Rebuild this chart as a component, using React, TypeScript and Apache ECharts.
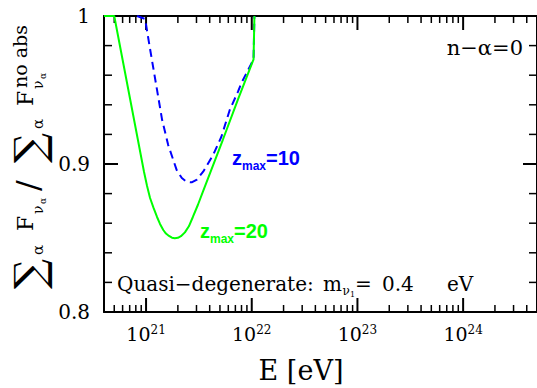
import React, { useEffect, useRef } from 'react';
import * as echarts from 'echarts';

// ---- data ----
const E_zmax20 = [4.0e20, 5.0e20, 9.57e20, 1.022e21, 1.091e21, 1.177e21, 1.27e21, 1.355e21, 1.455e21, 1.543e21, 1.648e21, 1.758e21, 1.87e21, 2.002e21, 2.138e21, 2.331e21, 2.542e21, 2.773e21, 3.091e21, 3.445e21, 5.318e21, 7.365e21, 1.04e22, 1.06e22];
const F_zmax20 = [1.0, 1.0, 0.8946, 0.8851, 0.877, 0.8703, 0.8642, 0.8595, 0.8554, 0.853, 0.8514, 0.8502, 0.8498, 0.8501, 0.8512, 0.8538, 0.8579, 0.8642, 0.8723, 0.8811, 0.9162, 0.9432, 0.9707, 1.0];
const E_zmax10 = [8.22e20, 9.79e20, 1.09e21, 1.42e21, 1.62e21, 1.95e21, 2.18e21, 2.42e21, 2.7e21, 3.03e21, 3.47e21, 4.31e21, 5.16e21, 6.19e21, 7.41e21, 7.98e21, 1.04e22, 1.06e22];
const F_zmax10 = [1.0, 0.998, 0.9779, 0.9297, 0.9128, 0.8959, 0.8905, 0.888, 0.8876, 0.8895, 0.8948, 0.9061, 0.9184, 0.9365, 0.9489, 0.9547, 0.9707, 1.0];

const E_MIN = 4e20;
const E_MAX = 5e24;
const F_MIN = 0.8;
const F_MAX = 1.0;
const F_INTERVAL = 0.1;
const xMajorExponents = [21, 22, 23, 24];
const xDecades = [20, 21, 22, 23, 24];
const xMinorMultipliers = [2, 3, 4, 5, 6, 7, 8, 9];
const yMajorTicks = [0.8, 0.9, 1.0];
const yMinorTicks = [0.82, 0.84, 0.86, 0.88, 0.92, 0.94, 0.96, 0.98];

const SERIF = '"DejaVu Serif", "Liberation Serif", serif';
const SANS = '"Liberation Sans", Arial, sans-serif';
const GREEN = '#00ff00';
const BLUE = '#0000ff';

// layout
const W = 537;
const H = 388;
const GRID = { left: 104, right: -1, top: 16, bottom: 76 };
const MAJOR_LEN = 14;
const MINOR_LEN_X = 7;
const MINOR_LEN_Y = 8;

export default function App() {
  const ref = useRef<HTMLDivElement>(null);

  useEffect(() => {
    if (!ref.current) return;
    const chart = echarts.init(ref.current, null, { renderer: 'svg' });
    const xMin = Math.log10(E_MIN);
    const xMax = Math.log10(E_MAX);

    const xMinorValues: number[] = [];
    xDecades.forEach((n) =>
      xMinorMultipliers.forEach((k) => {
        const v = n + Math.log10(k);
        if (v > xMin + 1e-9 && v < xMax - 1e-9) xMinorValues.push(v);
      })
    );

    // ticks drawn as thin rectangle symbols placed through the axes
    const tickScatter = (name: string, data: number[][], size: number[], offset: number[]) => ({
      name,
      type: 'scatter',
      xAxisIndex: 0,
      yAxisIndex: 0,
      data,
      symbol: 'rect',
      symbolSize: size,
      symbolOffset: offset,
      clip: false,
      silent: true,
      itemStyle: { color: '#000', opacity: 1 },
      z: 20,
    });
    const tickSeries = [
      tickScatter('x major bottom', xMajorExponents.map((v) => [v, F_MIN]), [2, MAJOR_LEN], [0, -MAJOR_LEN / 2]),
      tickScatter('x major top', xMajorExponents.map((v) => [v, F_MAX]), [2, MAJOR_LEN], [0, MAJOR_LEN / 2]),
      tickScatter('x minor bottom', xMinorValues.map((v) => [v, F_MIN]), [1.5, MINOR_LEN_X], [0, -MINOR_LEN_X / 2]),
      tickScatter('x minor top', xMinorValues.map((v) => [v, F_MAX]), [1.5, MINOR_LEN_X], [0, MINOR_LEN_X / 2]),
      tickScatter('y major left', yMajorTicks.map((v) => [xMin, v]), [MAJOR_LEN, 2], [MAJOR_LEN / 2, 0]),
      tickScatter('y major right', yMajorTicks.map((v) => [xMax, v]), [MAJOR_LEN, 2], [-MAJOR_LEN / 2, 0]),
      tickScatter('y minor left', yMinorTicks.map((v) => [xMin, v]), [MINOR_LEN_Y, 1.5], [MINOR_LEN_Y / 2, 0]),
      tickScatter('y minor right', yMinorTicks.map((v) => [xMax, v]), [MINOR_LEN_Y, 1.5], [-MINOR_LEN_Y / 2, 0]),
    ];

    const frameLine = { show: true, onZero: false, lineStyle: { color: '#000', width: 2 } };
    const baseX = { type: 'value', min: xMin, max: xMax, splitLine: { show: false } };
    const baseY = {
      type: 'value',
      min: F_MIN,
      max: F_MAX,
      interval: F_INTERVAL,
      splitLine: { show: false },
      axisLine: frameLine,
      axisTick: { show: false },
    };

    const txt = (text: string, x: number, y: number, size: number, opts: any = {}) => ({
      type: 'text',
      x,
      y,
      silent: true,
      style: {
        text,
        fill: opts.fill || '#000',
        fontSize: size,
        fontFamily: opts.family || SERIF,
        fontWeight: opts.weight || 'normal',
        align: opts.align || 'left',
        textAlign: opts.align || 'left',
        verticalAlign: opts.va || 'middle',
        textVerticalAlign: opts.va || 'middle',
      },
    });

    const zLabel = (value: string, x: number, y: number, color: string) => ({
      type: 'text',
      x,
      y,
      silent: true,
      style: {
        text: `{a|z}{s|max}{a|=${value}}`,
        fill: color,
        verticalAlign: 'top',
        textVerticalAlign: 'top',
        align: 'left',
        textAlign: 'left',
        rich: {
          a: { fontFamily: SANS, fontWeight: 'bold', fontSize: 20, fill: color, color, verticalAlign: 'top' },
          s: { fontFamily: SANS, fontWeight: 'bold', fontSize: 12, fill: color, color, verticalAlign: 'top', padding: [12, 0, 0, 0] },
        },
      },
    });

    const titlePieces = [
      txt('∑', -289, 29, 42),
      txt('α', -255, 38, 15),
      txt('F', -231, 25, 22),
      txt('ν', -214, 38, 14),
      txt('α', -204, 43, 9),
      txt('/', -191, 28, 32),
      txt('∑', -163, 29, 42),
      txt('α', -129, 38, 15),
      txt('F', -106, 25, 22),
      txt('ν', -89, 38, 14),
      txt('α', -79, 43, 9),
      txt('no abs', -88, 20, 19),
    ];

    chart.setOption({
      animation: false,
      grid: { ...GRID, containLabel: false },
      xAxis: [
        {
          ...baseX,
          position: 'bottom',
          axisLine: frameLine,
          axisTick: { show: false },
          axisLabel: {
            show: true,
            customValues: xMajorExponents,
            margin: 12,
            formatter: (v: number) => `{b|10}{s|${Math.round(v)}}`,
            rich: {
              b: { fontFamily: SERIF, fontSize: 19, color: '#000', verticalAlign: 'top' },
              s: { fontFamily: SERIF, fontSize: 12, color: '#000', verticalAlign: 'top' },
            },
          },
        },
        { ...baseX, position: 'top', axisLine: frameLine, axisTick: { show: false }, axisLabel: { show: false } },
      ],
      yAxis: [
        {
          ...baseY,
          position: 'left',
          axisLabel: {
            show: true,
            margin: 14,
            fontFamily: SERIF,
            fontSize: 20,
            color: '#000',
            formatter: (v: number) => (Math.abs(v - 1) < 1e-9 ? '1' : v.toFixed(1)),
          },
        },
        { ...baseY, position: 'right', axisLabel: { show: false } },
      ],
      series: [
        ...tickSeries,
        {
          name: 'z_max=10',
          type: 'line',
          xAxisIndex: 0,
          yAxisIndex: 0,
          data: E_zmax10.map((e, i) => [Math.log10(e), F_zmax10[i]]),
          showSymbol: false,
          symbol: 'none',
          clip: false,
          lineStyle: { color: BLUE, width: 2, type: [8, 5] },
          z: 21,
        },
        {
          name: 'z_max=20',
          type: 'line',
          xAxisIndex: 0,
          yAxisIndex: 0,
          data: E_zmax20.map((e, i) => [Math.log10(e), F_zmax20[i]]),
          showSymbol: false,
          symbol: 'none',
          clip: false,
          lineStyle: { color: GREEN, width: 2 },
          z: 22,
        },
      ],
      graphic: [
        txt('n−α=0', 523, 48, 21, { align: 'right' }),
        zLabel('10', 232, 148, BLUE),
        zLabel('20', 200, 221, GREEN),
        txt('Quasi−degenerate:', 117, 284, 20),
        txt('m', 323, 284, 20),
        txt('ν', 342.5, 291, 12),
        txt('1', 350, 294, 8),
        txt('=', 355, 284, 20),
        txt('0.4', 382, 284, 20),
        txt('eV', 447, 284, 20),
        txt('E [eV]', 301, 370, 27, { align: 'center' }),
        { type: 'group', x: 0, y: 0, rotation: Math.PI / 2, children: titlePieces },
      ],
    });

    return () => chart.dispose();
  }, []);

  return <div ref={ref} style={{ position: 'absolute', left: 0, top: 0, width: W, height: H, background: '#fff' }} />;
}
